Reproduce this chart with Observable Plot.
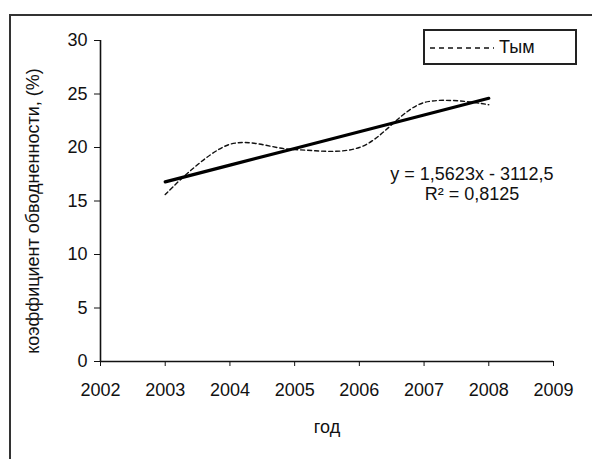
<!DOCTYPE html>
<html>
<head>
<meta charset="utf-8">
<script src="https://cdn.jsdelivr.net/npm/d3@7"></script>
<script src="https://cdn.jsdelivr.net/npm/@observablehq/plot@0.6"></script>
<style>
  html, body { margin: 0; padding: 0; background: #fff; }
  #wrap { position: relative; width: 592px; height: 459px; overflow: hidden; font-family: Arial, "Liberation Sans", sans-serif; }
  #frame { position: absolute; left: 9px; top: 14px; width: 700px; height: 600px; border-left: 2px solid #333; border-top: 2px solid #333; }
  #legend { position: absolute; left: 423px; top: 29px; width: 150px; height: 32px; border: 2px solid #222; background: #fff; }
  #legend svg { position: absolute; left: 3px; top: 0; }
  #legend span { position: absolute; left: 74px; top: 6px; font-size: 18px; color: #111; }
  #chart { position: absolute; left: 0; top: 0; }
</style>
</head>
<body>
<div id="wrap">
  <div id="chart"></div>
  <div id="frame"></div>
  <div id="legend"><svg width="70" height="32"><line x1="2" y1="17" x2="66" y2="17" stroke="#111" stroke-width="1.4" stroke-dasharray="5,4"></line></svg><span id="legtext"></span></div>
</div>
<script>
// ---- data ----
const years = [2003, 2004, 2005, 2006, 2007, 2008];
const tymValues = [15.6, 20.3, 19.8, 20.0, 24.2, 24.0];
const seriesName = "Тым";
const trendSlope = 1.5623;
const trendIntercept = -3112.5;
const trendEquation = "y = 1,5623x - 3112,5";
const trendR2 = "R² = 0,8125";
const xTicks = [2002, 2003, 2004, 2005, 2006, 2007, 2008, 2009];
const yTicks = [0, 5, 10, 15, 20, 25, 30];
const xLabel = "год";
const yLabel = "коэффициент обводненности, (%)";
const annotationPos = {x: 2007.74, y: 16.6};

// ---- derived tables ----
const series = years.map((x, i) => ({x, y: tymValues[i]}));
const trend = years.map(x => ({x, y: trendSlope * x + trendIntercept}));

document.getElementById("legtext").textContent = seriesName;

const chart = Plot.plot({
  width: 592,
  height: 459,
  marginLeft: 100,
  marginRight: 39,
  marginTop: 40,
  marginBottom: 98,
  style: {fontFamily: "Arial, 'Liberation Sans', sans-serif", fontSize: "18px", color: "#111", background: "transparent"},
  x: {domain: [xTicks[0], xTicks[xTicks.length - 1]]},
  y: {domain: [yTicks[0], yTicks[yTicks.length - 1]]},
  marks: [
    Plot.ruleY([yTicks[0]], {stroke: "#111", strokeWidth: 1.6}),
    Plot.ruleX([xTicks[0]], {stroke: "#111", strokeWidth: 1.6}),
    Plot.axisX({ticks: xTicks, tickFormat: d => String(d), tickSize: 5, tickPadding: 17, label: null, fontSize: 18, stroke: "#111"}),
    Plot.axisY({ticks: yTicks, tickSize: 6, tickPadding: 7, label: null, fontSize: 18, stroke: "#111"}),
    Plot.line(series, {x: "x", y: "y", curve: "catmull-rom", stroke: "#111", strokeWidth: 1.4, strokeDasharray: "4,3"}),
    Plot.line(trend, {x: "x", y: "y", stroke: "#000", strokeWidth: 3.2}),
    Plot.text([trendEquation + "\n" + trendR2], {x: () => annotationPos.x, y: () => annotationPos.y, fontSize: 18, lineHeight: 1.12, fill: "#111"}),
    Plot.text([xLabel], {frameAnchor: "bottom", dy: 71, fontSize: 18, fill: "#111"}),
    Plot.text([yLabel], {frameAnchor: "left", textAnchor: "middle", rotate: -90, dx: -67, dy: 10, fontSize: 18, fill: "#111"})
  ]
});
document.getElementById("chart").appendChild(chart);
</script>
</body>
</html>
